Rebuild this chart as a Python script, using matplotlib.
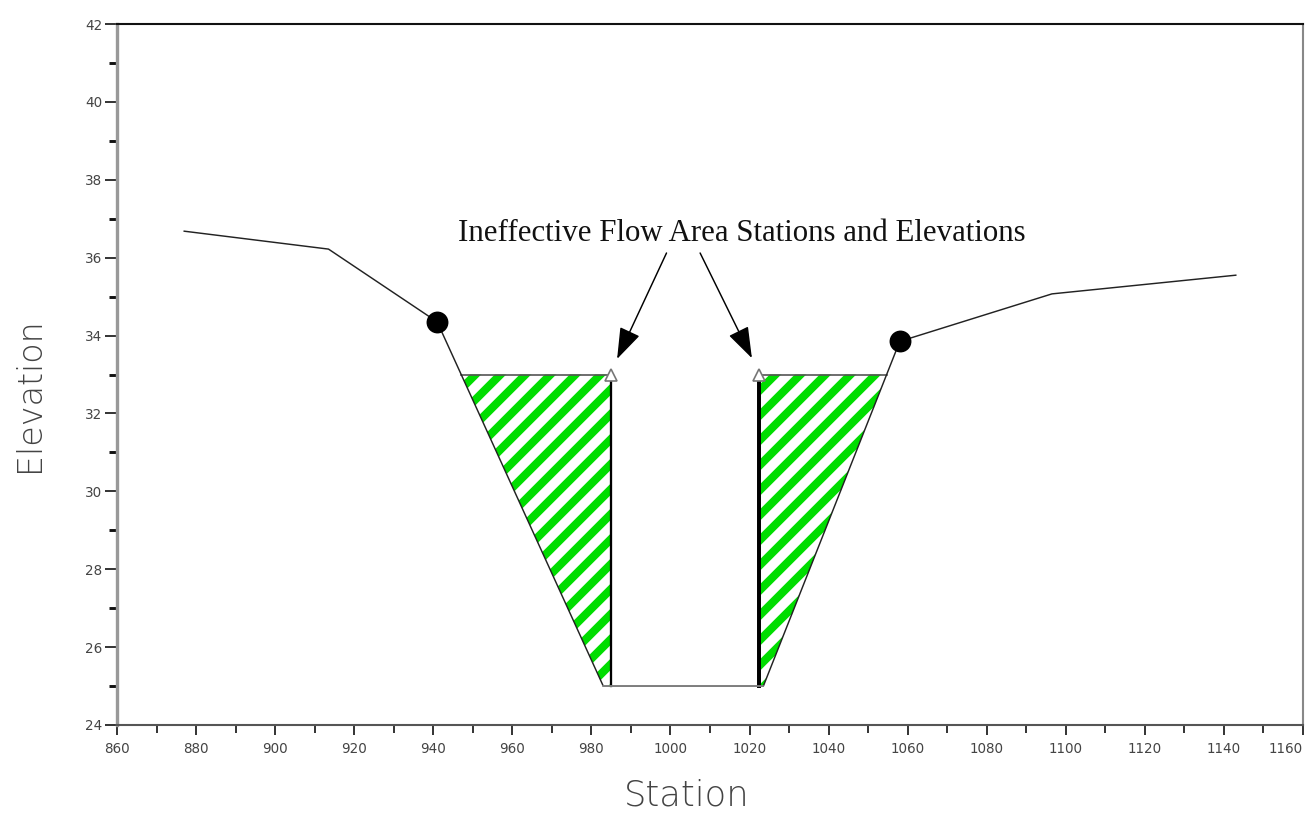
"""
Cross section with ineffective flow areas (HEC-RAS style figure).
"""

import matplotlib
matplotlib.use("Agg")
import matplotlib.pyplot as plt
import numpy as np

# ground profile (station, elevation)
stations = [877, 913.5, 941, 983, 1023.5, 1058, 1096.5, 1143]
elevations = [36.68, 36.22, 34.35, 25.0, 25.0, 33.85, 35.07, 35.55]

# bank stations (filled dots)
bank_sta = [941, 1058]
bank_elev = [34.35, 33.85]

# ineffective flow area stations / elevations (open triangles)
ineff_sta = [985, 1022.5]
ineff_elev = [33.0, 33.0]

label_text = "Ineffective Flow Area Stations and Elevations"

DPI = 150
plt.rcParams["hatch.linewidth"] = 3.9

fig = plt.figure(figsize=(1309 / DPI, 813 / DPI), dpi=DPI)
ax = fig.add_axes([117 / 1309, 88 / 813, 1186 / 1309, 701 / 813])

sta = np.array(stations)
elev = np.array(elevations)

# hatched ineffective areas
xl = np.linspace(sta.min(), ineff_sta[0], 600)
yl = np.minimum(np.interp(xl, sta, elev), ineff_elev[0])
ax.fill_between(xl, yl, ineff_elev[0], facecolor="white", edgecolor="#00dd00",
                hatch="//", linewidth=0, zorder=1)
xr = np.linspace(ineff_sta[1], sta.max(), 600)
yr = np.minimum(np.interp(xr, sta, elev), ineff_elev[1])
ax.fill_between(xr, yr, ineff_elev[1], facecolor="white", edgecolor="#00dd00",
                hatch="//", linewidth=0, zorder=1)

# edges of the ineffective blocks
lo = np.interp(ineff_elev[0], elev[2:4][::-1], sta[2:4][::-1])
hi = np.interp(ineff_elev[1], elev[4:6], sta[4:6])
ax.plot([lo, ineff_sta[0]], [ineff_elev[0]] * 2, color="#555555", lw=0.8, zorder=2)
ax.plot([ineff_sta[1], hi], [ineff_elev[1]] * 2, color="#555555", lw=0.8, zorder=2)
ax.plot([ineff_sta[0]] * 2, [elev.min(), ineff_elev[0]], color="black", lw=1.1, zorder=3)
ax.plot([ineff_sta[1]] * 2, [elev.min(), ineff_elev[1]], color="black", lw=1.9, zorder=3)

# ground line
ax.plot(sta, elev, color="#222222", lw=0.7, zorder=4)
ax.plot(sta[3:5], elev[3:5], color="#888888", lw=0.8, zorder=4)

ax.plot(bank_sta, bank_elev, "o", color="black", ms=9.5, zorder=5)
ax.plot(ineff_sta, ineff_elev, "^", mfc="white", mec="#777777", mew=0.8, ms=5.5,
        zorder=6)

# annotation with two arrows
ax.text(1018, 36.63, label_text, ha="center", va="center",
        family="Liberation Serif", fontsize=14.8, color="#111111")
arrow = dict(arrowstyle="-|>,head_length=1.3,head_width=0.45", color="black",
             lw=0.7, shrinkA=0, shrinkB=0)
ax.annotate("", xy=(986.5, 33.4), xytext=(999, 36.12), arrowprops=arrow)
ax.annotate("", xy=(1020.6, 33.42), xytext=(1007.5, 36.12), arrowprops=arrow)

ax.set_xlim(860, 1160)
ax.set_ylim(24, 42)
ax.set_xticks(np.arange(860, 1161, 20))
ax.set_xticks(np.arange(870, 1160, 20), minor=True)
ax.set_yticks(np.arange(24, 43, 2))
ax.set_yticks(np.arange(25, 42, 2), minor=True)

ax.tick_params(axis="both", which="both", direction="out", colors="#111111",
               labelcolor="#444444", labelsize=6.5)
ax.tick_params(axis="x", which="major", length=5, width=0.8, pad=3)
ax.tick_params(axis="x", which="minor", length=4, width=0.8)
ax.tick_params(axis="y", which="major", length=6, width=0.8, pad=1)
ax.tick_params(axis="y", which="minor", length=4, width=1.4)
ax.get_xticklabels()[-1].set_horizontalalignment("right")

ax.spines["left"].set_color("#999999")
ax.spines["left"].set_linewidth(1.6)
ax.spines["bottom"].set_color("#555555")
ax.spines["bottom"].set_linewidth(1.0)
ax.spines["top"].set_color("#111111")
ax.spines["top"].set_linewidth(1.0)
ax.spines["right"].set_color("#888888")
ax.spines["right"].set_linewidth(1.0)

ax.set_xlabel("Station", fontsize=17, color="#444444", fontweight="light")
ax.set_ylabel("Elevation", fontsize=16, color="#444444", fontweight="light")
ax.xaxis.set_label_coords(0.4806, -0.0999)
ax.yaxis.set_label_coords(-0.0734, 0.471)
ax.xaxis.label.set_va("center")
ax.yaxis.label.set_va("center")

fig.savefig("out.png", dpi=DPI)
